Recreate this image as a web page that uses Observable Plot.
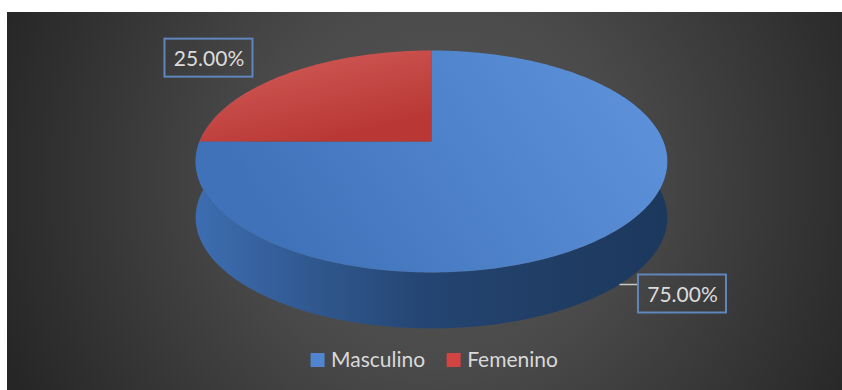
<!DOCTYPE html>
<html><head><meta charset="utf-8">
<script src="https://cdn.jsdelivr.net/npm/d3@7"></script>
<script src="https://cdn.jsdelivr.net/npm/@observablehq/plot@0.6"></script>
<style>html,body{margin:0;padding:0;background:#fff;overflow:hidden}</style>
</head><body><div id="chart"></div>
<script>
// ---- data ----
const categories = ["Masculino", "Femenino"];
const values = [75, 25];
const valueLabels = ["75.00%", "25.00%"];

// ---- style / layout ----
const W = 842, H = 390;
const FONT = "Lato, 'Open Sans', sans-serif";
const topFills = ["url(#gBlue)", "url(#gRed)"];
const legendColors = ["#4f86cf", "#d24442"];
const cx = 431, cy = 141, rx = 232, persB = -82, persC = 0.18, depth = 56;

function proj(r, phi, dz = 0) {
  const u = r * Math.sin(phi), v = r * Math.cos(phi);
  const den = 1 + persC * v;
  return {x: cx + rx * u / den, y: (cy + persB * v) / den + dz};
}
const rad = d => d * Math.PI / 180;
const total = d3.sum(values);
let acc = 0;
const slices = values.map((v, i) => {
  const a0 = acc / total * 360; acc += v; const a1 = acc / total * 360;
  return {i, a0, a1, mid: (a0 + a1) / 2};
});

// top faces
const topPolys = slices.map(s => {
  const pts = [proj(0, 0)];
  for (let a = s.a0; a <= s.a1 + 1e-9; a += 1) pts.push(proj(1, rad(a)));
  pts.push(proj(0, 0));
  return pts;
});
// side wall (front)
const side = [];
for (let a = 60; a <= 300; a += 1) side.push(proj(1, rad(a)));
for (let a = 300; a >= 60; a -= 1) side.push(proj(1, rad(a), depth));
// shadow
const shadow = [];
for (let a = 0; a <= 360; a += 2) { const p = proj(1.01, rad(a), depth + 2); shadow.push({x: p.x + 3, y: p.y}); }

// labels
const labelInfo = [
  {anchor: proj(1, rad(slices[0].mid), depth), dx: 63, dy: 9.5, leader: true},
  {anchor: proj(1, rad(slices[1].mid)), dx: -77, dy: -16, leader: false}
];
const boxW = 88, boxH = 38;
const labels = labelInfo.map((l, i) => ({
  text: valueLabels[i], x: l.anchor.x + l.dx, y: l.anchor.y + l.dy,
  ax: l.anchor.x, ay: l.anchor.y, leader: l.leader
}));

// legend layout
const ctx = document.createElement("canvas").getContext("2d");
ctx.font = `21px ${FONT}`;
const sq = 14, gap = 6, spacing = 22;
const widths = categories.map(c => ctx.measureText(c).width);
const legW = d3.sum(widths) + categories.length * (sq + gap) + spacing * (categories.length - 1);
let lx = 434 - legW / 2;
const legend = categories.map((c, i) => {
  const item = {c, i, x: lx, y: 360};
  lx += sq + gap + widths[i] + spacing;
  return item;
});

const plot = Plot.plot({
  width: W, height: H, margin: 0,
  x: {domain: [0, W], range: [0, W], axis: null},
  y: {domain: [0, H], range: [0, H], axis: null},
  style: {background: "#fff", fontFamily: FONT},
  marks: [
    Plot.rect([{}], {x1: 7, x2: W, y1: 12, y2: H, fill: "url(#gBg)"}),
    Plot.line(shadow, {x: "x", y: "y", fill: "#000", fillOpacity: 0.55, stroke: "none", ariaLabel: "shadow"}),
    Plot.line(side, {x: "x", y: "y", fill: "url(#gSide)", stroke: "none"}),
    ...topPolys.map((p, i) => Plot.line(p, {x: "x", y: "y", fill: topFills[i], stroke: "none"})),
    Plot.link(labels.filter(d => d.leader), {x1: "ax", y1: "ay", x2: d => d.x - boxW / 2, y2: "ay", stroke: "#c8c8c8", strokeWidth: 1.5}),
    Plot.rect(labels, {x1: d => d.x - boxW / 2, x2: d => d.x + boxW / 2, y1: d => d.y - boxH / 2, y2: d => d.y + boxH / 2, fill: "none", stroke: "#5f86bd", strokeWidth: 2}),
    Plot.text(labels, {x: "x", y: "y", text: "text", fill: "#dcdcdc", fontSize: 21, textAnchor: "middle", dy: 1}),
    Plot.rect(legend, {x1: "x", x2: d => d.x + sq, y1: d => d.y - sq / 2, y2: d => d.y + sq / 2, fill: d => legendColors[d.i]}),
    Plot.text(legend, {x: d => d.x + sq + gap, y: "y", text: "c", fill: "#d9d9d9", fontSize: 21, textAnchor: "start", dy: 0})
  ]
});

const svg = d3.select(plot);
const defs = svg.insert("defs", ":first-child");
function lin(id, x1, y1, x2, y2, stops) {
  const g = defs.append("linearGradient").attr("id", id).attr("gradientUnits", "userSpaceOnUse")
    .attr("x1", x1).attr("y1", y1).attr("x2", x2).attr("y2", y2);
  stops.forEach(([o, c]) => g.append("stop").attr("offset", o).attr("stop-color", c));
}
lin("gBlue", 620, 70, 300, 270, [[0, "#5c91d9"], [1, "#3f72b9"]]);
lin("gRed", 300, 55, 320, 140, [[0, "#cd5652"], [1, "#b93836"]]);
lin("gSide", 195, 0, 668, 0, [[0, "#3d6db1"], [0.25, "#30588f"], [0.5, "#244471"], [0.8, "#1f3c63"], [1, "#1c385d"]]);
const rg = defs.append("radialGradient").attr("id", "gBg").attr("gradientUnits", "userSpaceOnUse")
  .attr("cx", 440).attr("cy", 180).attr("r", 470);
[[0, "#575757"], [0.4, "#4a4a4a"], [1, "#262626"]].forEach(([o, c]) => rg.append("stop").attr("offset", o).attr("stop-color", c));
defs.append("filter").attr("id", "blur").attr("x", "-20%").attr("y", "-20%").attr("width", "140%").attr("height", "140%")
  .append("feGaussianBlur").attr("stdDeviation", 4);
svg.select('g[aria-label="shadow"]').attr("filter", "url(#blur)");

document.getElementById("chart").appendChild(plot);
</script>
</body></html>
